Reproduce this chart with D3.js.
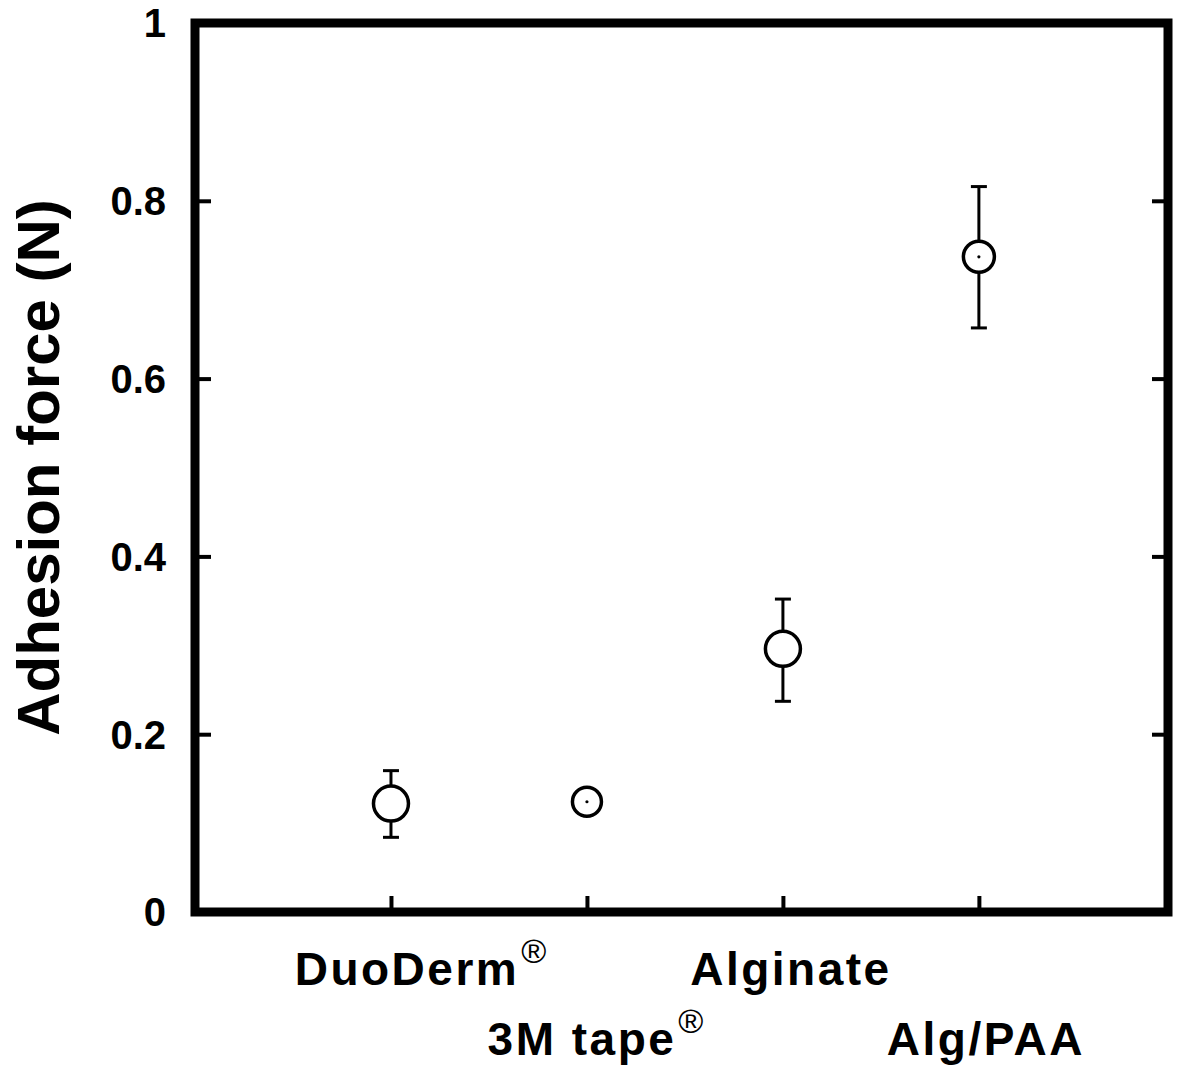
<!DOCTYPE html>
<html>
<head>
<meta charset="utf-8">
<script src="https://cdn.jsdelivr.net/npm/d3@7"></script>
<style>
  body { margin: 0; background: #fff; }
  text { font-family: "Liberation Sans", Arial, sans-serif; font-weight: bold; fill: #000; }
</style>
</head>
<body>
<svg width="1181" height="1066"></svg>
<script>
var categories = ["DuoDerm", "3M tape", "Alginate", "Alg/PAA"];
var registered = [true, true, false, false];
var labelRow = [0, 1, 0, 1];
var labelDx = [16, -5, 8, 7];
var means = [0.122, 0.124, 0.296, 0.737];
var errLow = [0.084, 0.115, 0.237, 0.657];
var errHigh = [0.159, 0.133, 0.352, 0.816];
var markerR = [19, 16, 19, 17];
var centerDot = [false, true, false, true];
var yTicks = [0, 0.2, 0.4, 0.6, 0.8, 1];
var xMax = 4.965;

var svg = d3.select("svg"),
    margin = {left: 195, right: 13, top: 23, bottom: 154},
    width = +svg.attr("width"),
    height = +svg.attr("height");

var x = d3.scaleLinear().domain([0, xMax]).range([margin.left, width - margin.right]);
var y = d3.scaleLinear().domain([0, 1]).range([height - margin.bottom, margin.top]);

var data = categories.map(function (c, i) {
    return {name: c, i: i + 1, mean: means[i], lo: errLow[i], hi: errHigh[i], r: markerR[i], dot: centerDot[i], reg: registered[i], row: labelRow[i], dx: labelDx[i]};
});

// ticks pointing inward, left and right
var tickLen = 16;
svg.append("g").call(d3.axisRight(y).tickValues(yTicks.slice(1, -1)).tickSize(tickLen).tickFormat(""))
    .attr("transform", "translate(" + x(0) + ",0)")
    .call(function (g) { g.select(".domain").remove(); g.selectAll("line").attr("stroke-width", 4); });
svg.append("g").call(d3.axisLeft(y).tickValues(yTicks.slice(1, -1)).tickSize(tickLen).tickFormat(""))
    .attr("transform", "translate(" + x(xMax) + ",0)")
    .call(function (g) { g.select(".domain").remove(); g.selectAll("line").attr("stroke-width", 4); });
svg.append("g").call(d3.axisTop(x).tickValues([1, 2, 3, 4]).tickSize(tickLen).tickFormat(""))
    .attr("transform", "translate(0," + y(0) + ")")
    .call(function (g) { g.select(".domain").remove(); g.selectAll("line").attr("stroke-width", 4); });

// y tick labels
svg.append("g").selectAll("text").data(yTicks).enter().append("text")
    .attr("x", x(0) - 29)
    .attr("y", function (d) { return y(d); })
    .attr("dy", "0.36em")
    .attr("text-anchor", "end")
    .style("font-size", "40px")
    .text(function (d) { return d === 0 || d === 1 ? d : d3.format(".1f")(d); });

// frame
svg.append("rect")
    .attr("x", x(0)).attr("y", y(1))
    .attr("width", x(xMax) - x(0)).attr("height", y(0) - y(1))
    .attr("fill", "none").attr("stroke", "#000").attr("stroke-width", 9);

// axis title
svg.append("text")
    .attr("transform", "translate(59," + ((y(0) + y(1)) / 2) + ") rotate(-90)")
    .attr("text-anchor", "middle")
    .style("font-size", "60px")
    .text("Adhesion force (N)");

// category labels (staggered)
var lab = svg.append("g").selectAll("g").data(data).enter().append("g");
lab.append("text")
    .attr("x", function (d) { return x(d.i) + d.dx; })
    .attr("y", function (d) { return d.row === 0 ? 985 : 1055; })
    .attr("text-anchor", "middle")
    .style("font-size", "46px")
    .style("letter-spacing", "2.5px")
    .text(function (d) { return d.name; })
    .each(function (d) { d.w = this.getComputedTextLength(); });
lab.filter(function (d) { return d.reg; }).append("text")
    .attr("x", function (d) { return x(d.i) + d.dx + d.w / 2 + 2; })
    .attr("y", function (d) { return (d.row === 0 ? 985 : 1055) - 22; })
    .style("font-size", "34px")
    .style("font-weight", "normal")
    .text("\u00AE");

// error bars
var eb = svg.append("g").attr("stroke", "#000").attr("stroke-width", 3);
eb.selectAll(".stem").data(data).enter().append("line")
    .attr("x1", function (d) { return x(d.i); }).attr("x2", function (d) { return x(d.i); })
    .attr("y1", function (d) { return y(d.lo); }).attr("y2", function (d) { return y(d.hi); });
["lo", "hi"].forEach(function (k) {
    eb.selectAll(".cap-" + k).data(data).enter().append("line")
        .attr("x1", function (d) { return x(d.i) - 8; }).attr("x2", function (d) { return x(d.i) + 8; })
        .attr("y1", function (d) { return y(d[k]); }).attr("y2", function (d) { return y(d[k]); });
});

// markers
svg.append("g").selectAll("circle").data(data).enter().append("circle")
    .attr("cx", function (d) { return x(d.i); })
    .attr("cy", function (d) { return y(d.mean); })
    .attr("r", function (d) { return d.r - 1.5; })
    .attr("fill", "#fff").attr("stroke", "#000").attr("stroke-width", 3.5);
svg.append("g").selectAll("circle").data(data.filter(function (d) { return d.dot; })).enter().append("circle")
    .attr("cx", function (d) { return x(d.i); })
    .attr("cy", function (d) { return y(d.mean); })
    .attr("r", 1.6).attr("fill", "#000");
</script>
</body>
</html>
